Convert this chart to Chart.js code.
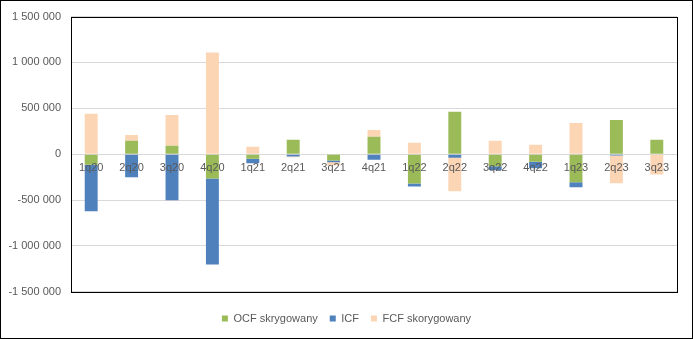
<!DOCTYPE html>
<html>
<head>
<meta charset="utf-8">
<script src="https://cdn.jsdelivr.net/npm/chart.js@4"></script>
<style>
  html, body { margin: 0; padding: 0; background: #fff; }
  #wrap { width: 693px; height: 339px; position: relative; }
</style>
</head>
<body>
<div id="wrap"><canvas id="cashChart" width="693" height="339"></canvas></div>
<script>
// Quarterly cash flows
const quarters = ['1q20', '2q20', '3q20', '4q20', '1q21', '2q21', '3q21', '4q21',
                  '1q22', '2q22', '3q22', '4q22', '1q23', '2q23', '3q23'];
const ocfValues = [-114000, 146000, 92000, -265000, -50000, 157000, -70000, 189000,
                   -319000, 463000, -132000, -81000, -305000, 373000, 157000];
const icfValues = [-508000, -250000, -503000, -937000, -50000, -24000, -18000, -60000,
                   -33000, -38000, -39000, -72000, -54000, -13000, 0];
const fcfValues = [440000, 64000, 335000, 1108000, 81000, -10000, -32000, 76000,
                   124000, -367000, 146000, 103000, 340000, -303000, -222000];
const yTicks = [-1500000, -1000000, -500000, 0, 500000, 1000000, 1500000];

Chart.defaults.font.family = "'Liberation Sans', Arial, sans-serif";
Chart.defaults.font.size = 11;
Chart.defaults.color = '#595959';

// black frame around the plot area and the whole picture
const framePlugin = {
    id: 'frame',
    afterDraw(chart) {
        const { ctx, chartArea: a } = chart;
        ctx.save();
        ctx.strokeStyle = '#000';
        ctx.lineWidth = 1;
        ctx.strokeRect(Math.round(a.left) + 0.5, Math.round(a.top) + 0.5,
                       Math.round(a.right - a.left), Math.round(a.bottom - a.top));
        ctx.strokeRect(0.5, 0.5, chart.width - 1, chart.height - 1);
        ctx.restore();
    },
};

function formatThousands(v) {
    const s = Math.abs(v).toString().replace(/\B(?=(\d{3})+(?!\d))/g, ' ');
    return (v < 0 ? '-' : '') + s;
}

new Chart(document.getElementById('cashChart'), {
    type: 'bar',
    data: {
        labels: quarters,
        datasets: [
            { label: 'OCF skrygowany', data: ocfValues, backgroundColor: '#9BBB59' },
            { label: 'ICF', data: icfValues, backgroundColor: '#4F81BD' },
            { label: 'FCF skorygowany', data: fcfValues, backgroundColor: '#FCD5B5' },
        ],
    },
    options: {
        responsive: false,
        animation: false,
        layout: { padding: { top: 5, right: 0, bottom: 5, left: 0 } },
        datasets: {
            bar: { barPercentage: 0.32, categoryPercentage: 1, borderWidth: 0 },
        },
        scales: {
            x: {
                stacked: true,
                position: { y: 0 },
                grid: { display: false, drawTicks: false },
                border: { display: false },
                ticks: { padding: 7, maxRotation: 0, autoSkip: false, z: 1 },
            },
            y: {
                stacked: true,
                min: -1500000,
                max: 1500000,
                afterBuildTicks(scale) {
                    scale.ticks = yTicks.map(v => ({ value: v }));
                },
                afterFit(scale) { scale.width = 71; },
                grid: { color: '#d9d9d9', drawTicks: false },
                border: { display: false },
                ticks: { padding: 10, callback: v => formatThousands(v) },
            },
            // empty right axis, only keeps the margin on the right side
            yRight: {
                position: 'right',
                min: -1500000,
                max: 1500000,
                afterFit(scale) { scale.width = 16; },
                grid: { display: false, drawTicks: false },
                border: { display: false },
                ticks: { display: false },
            },
        },
        plugins: {
            legend: {
                position: 'bottom',
                title: { display: true, text: '', font: { size: 6 }, padding: 1 },
                labels: { boxWidth: 6, boxHeight: 6, padding: 12, color: '#595959' },
            },
            tooltip: { enabled: false },
        },
    },
    plugins: [framePlugin],
});
</script>
</body>
</html>
